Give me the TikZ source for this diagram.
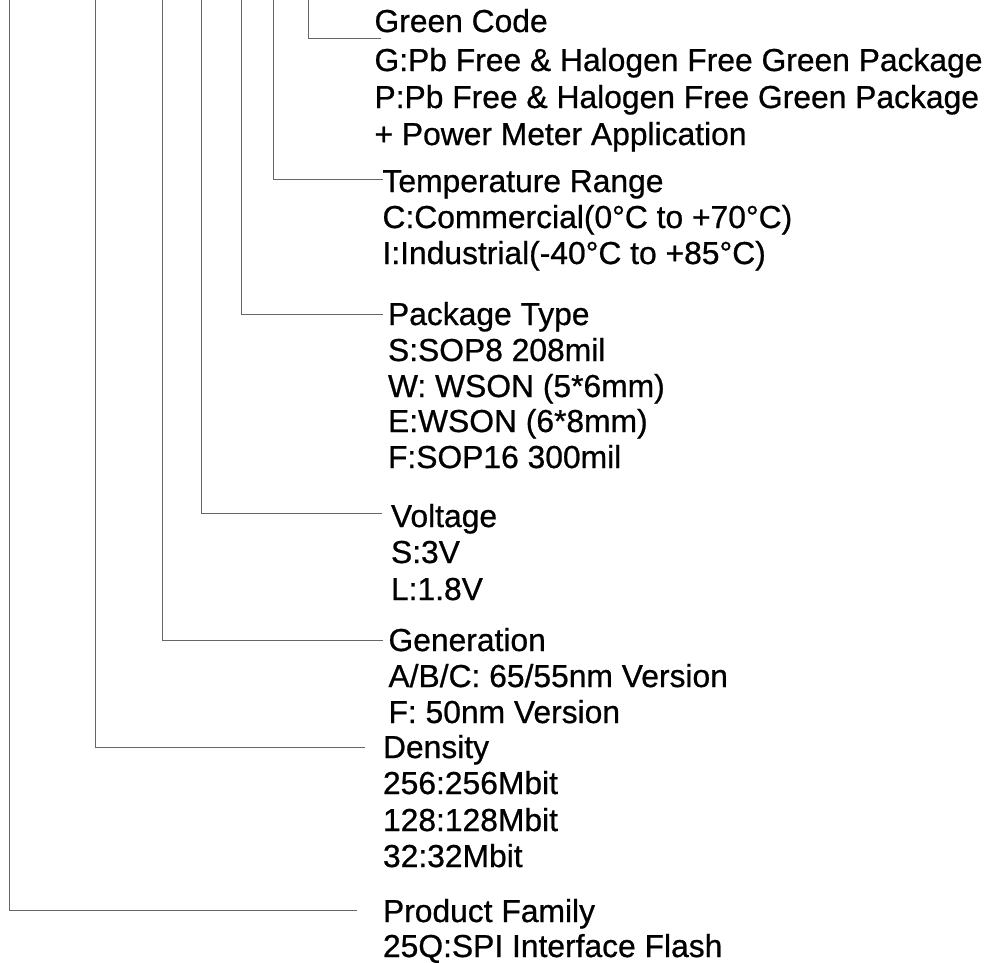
\documentclass[tikz,border=0pt]{standalone}
\usepackage{fontspec}
\setmainfont{Liberation Sans}[FakeBold=0.7]
\begin{document}
\begin{tikzpicture}[x=1pt,y=-1pt,
  conn/.style={draw=black!60, line width=0.9pt},
  lbl/.style={anchor=base west, inner sep=0pt, outer sep=0pt, font=\fontsize{31.8}{36}\selectfont}]
\useasboundingbox (0,0) rectangle (990,962);
% Green code block
\node[lbl] (gc)  at (374.5,32)  {Green Code};
\node[lbl] (gc1) at (374.5,71)  {G:Pb Free \& Halogen Free Green Package};
\node[lbl] (gc2) at (374.5,108) {P:Pb Free \& Halogen Free Green Package};
\node[lbl] (gc3) at (374.5,145) {+ Power Meter Application};
% Temperature block
\node[lbl] (tr)  at (382.5,192) {Temperature Range};
\node[lbl] (tr1) at (382.5,228) {C:Commercial(0°C to +70°C)};
\node[lbl] (tr2) at (382.5,264) {I:Industrial(-40°C to +85°C)};
% Package block
\node[lbl] (pt)  at (388,325) {Package Type};
\node[lbl] (pt1) at (388,361) {S:SOP8 208mil};
\node[lbl] (pt2) at (388,397) {W: WSON (5*6mm)};
\node[lbl] (pt3) at (388,432) {E:WSON (6*8mm)};
\node[lbl] (pt4) at (388,468) {F:SOP16 300mil};
% Voltage block
\node[lbl] (vo)  at (391,527) {Voltage};
\node[lbl] (vo1) at (391,563) {S:3V};
\node[lbl] (vo2) at (391,600) {L:1.8V};
% Generation block
\node[lbl] (ge)  at (388.5,651) {Generation};
\node[lbl] (ge1) at (388.5,687) {A/B/C: 65/55nm Version};
\node[lbl] (ge2) at (388.5,723) {F: 50nm Version};
% Density block
\node[lbl] (de)  at (383,758) {Density};
\node[lbl] (de1) at (383,794) {256:256Mbit};
\node[lbl] (de2) at (383,831) {128:128Mbit};
\node[lbl] (de3) at (383,867) {32:32Mbit};
% Product family block
\node[lbl] (pf)  at (383,922) {Product Family};
\node[lbl] (pf1) at (383,957) {25Q:SPI Interface Flash};
% connector points
\coordinate (sgc) at (308,0);   \coordinate (egc) at (381,38.5);
\coordinate (str) at (273,0);   \coordinate (etr) at (383,179.5);
\coordinate (spt) at (241,0);   \coordinate (ept) at (383,314);
\coordinate (svo) at (201,0);   \coordinate (evo) at (382,513.5);
\coordinate (sge) at (162,0);   \coordinate (ege) at (383,640);
\coordinate (sde) at (95,0);    \coordinate (ede) at (365,747);
\coordinate (spf) at (9.5,0);   \coordinate (epf) at (357,910);
\draw[conn] (sgc) |- (egc);
\draw[conn] (str) |- (etr);
\draw[conn] (spt) |- (ept);
\draw[conn] (svo) |- (evo);
\draw[conn] (sge) |- (ege);
\draw[conn] (sde) |- (ede);
\draw[conn] (spf) |- (epf);
\end{tikzpicture}
\end{document}
